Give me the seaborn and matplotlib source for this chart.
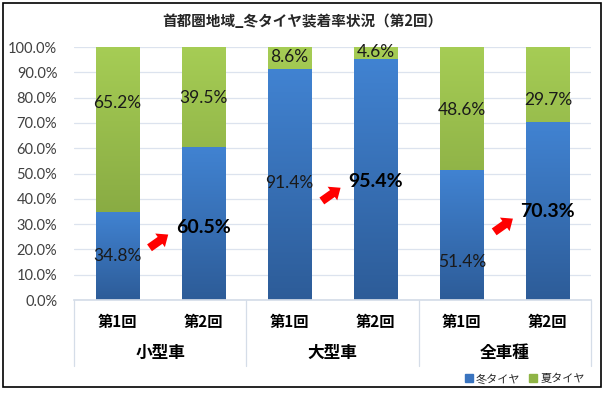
import numpy as np
import pandas as pd
import seaborn as sns
import matplotlib.pyplot as plt
import matplotlib.patches as mpatches
from matplotlib.colors import LinearSegmentedColormap
from matplotlib.ticker import FuncFormatter

# dados
grupos = ['小型車', '大型車', '全車種']
rodadas = ['第1回', '第2回']
inverno = [34.8, 60.5, 91.4, 95.4, 51.4, 70.3]   # 冬タイヤ
verao = [65.2, 39.5, 8.6, 4.6, 48.6, 29.7]       # 夏タイヤ
# posição vertical (em %) onde cada rótulo foi escrito no original
y_rot_verao = [77.9, 79.8, 96.0, 98.0, 75.1, 79.0]
y_rot_inverno = [17.4, 28.5, 46.2, 47.0, 15.0, 34.8]

cats = [f'{g}{r}' for g in grupos for r in rodadas]
df = pd.DataFrame({'cat': cats, 'inverno': inverno, 'verao': verao})
df['total'] = df['inverno'] + df['verao']

sns.set_theme(style='white')
plt.rcParams['font.family'] = ['Noto Sans CJK JP', 'DejaVu Sans']

fig = plt.figure(figsize=(6.04, 3.99), dpi=100)
ax = fig.add_axes([0.1225, 0.2481, 0.856, 0.6341])

azul = '#3a74bf'
verde = '#8fb446'
sns.barplot(data=df, x='cat', y='total', color=verde, width=0.5, saturation=1, ax=ax, zorder=2)
sns.barplot(data=df, x='cat', y='inverno', color=azul, width=0.5, saturation=1, ax=ax, zorder=2)

# degradê nas barras, parecido com o Excel
cmap_verde = LinearSegmentedColormap.from_list('v', ['#7a9a3a', '#a6cd55'])
cmap_azul = LinearSegmentedColormap.from_list('a', ['#2d5c98', '#4183d2'])
grad = np.linspace(0, 1, 256).reshape(-1, 1)
n = len(cats)
for i, p in enumerate(ax.patches):
    cmap = cmap_verde if i < n else cmap_azul
    x0, y0 = p.get_x(), p.get_y()
    w, h = p.get_width(), p.get_height()
    im = ax.imshow(grad, extent=[x0, x0 + w, y0, y0 + h], origin='lower', aspect='auto',
                   cmap=cmap, zorder=2.5)
    im.set_clip_path(p)
    p.set_facecolor('none')
    p.set_edgecolor('none')

ax.set_xlim(-0.5, n - 0.5)
ax.set_ylim(0, 100)
ax.set_yticks(np.arange(0, 101, 10))
ax.yaxis.set_major_formatter(FuncFormatter(lambda v, _: f'{v:.1f}%'))
ax.tick_params(axis='y', labelsize=10.5, colors='#404040', length=0, pad=12)
for t in ax.get_yticklabels():
    t.set_family('Lato')
ax.set_xticks([])
ax.set_xlabel('')
ax.set_ylabel('')
ax.grid(axis='y', color='#dce3ee', lw=0.9, zorder=0)
for s in ['top', 'right', 'left']:
    ax.spines[s].set_visible(False)
ax.spines['bottom'].set_color('#d5dde8')

# rótulos de dados
for i in range(n):
    ax.text(i, y_rot_verao[i], f'{verao[i]:.1f}%', ha='center', va='center',
            fontsize=12.5, color='#1a1a1a', family='Lato', zorder=5)
    if i % 2 == 0:
        ax.text(i, y_rot_inverno[i], f'{inverno[i]:.1f}%', ha='center', va='center',
                fontsize=12.5, color='#1a1a1a', family='Lato', zorder=5)
    else:
        ax.text(i, y_rot_inverno[i], f'{inverno[i]:.1f}%', ha='center', va='center',
                fontsize=14, fontweight='bold', color='black', family='Lato', zorder=5)

# setas vermelhas
for i in range(0, n, 2):
    ax.annotate('', xy=(i + 0.62, y_rot_inverno[i + 1] - 2), xytext=(i + 0.35, y_rot_inverno[i + 1] - 8.5),
                arrowprops=dict(arrowstyle='simple,head_length=0.6,head_width=1.0,tail_width=0.5',
                                color='red', lw=0), zorder=6)

# eixo x em dois níveis
trans = ax.get_xaxis_transform()
for i, c in enumerate(cats):
    ax.text(i, -0.085, rodadas[i % 2], transform=trans, ha='center', va='center',
            fontsize=11, fontweight='bold', color='black')
for k, g in enumerate(grupos):
    ax.text(2 * k + 0.5, -0.21, g, transform=trans, ha='center', va='center',
            fontsize=12, fontweight='bold', color='black')
for xs in [-0.5, 1.5, 3.5, 5.5]:
    ax.plot([xs, xs], [0, -0.26], transform=trans, color='#d5dde8', lw=0.9, clip_on=False)

fig.text(0.5, 0.948, '首都圏地域_冬タイヤ装着率状況（第2回）', ha='center', va='center',
         fontsize=10.5, fontweight='bold', color='#262626')

hs = [mpatches.Patch(color=azul, label='冬タイヤ'), mpatches.Patch(color=verde, label='夏タイヤ')]
fig.legend(handles=hs, loc='lower right', bbox_to_anchor=(0.985, 0.012), ncol=2, frameon=False,
           fontsize=8, handlelength=0.7, handleheight=0.7, handletextpad=0.3, columnspacing=0.8)

fig.patches.append(mpatches.Rectangle((0.005, 0.03), 0.99, 0.962, transform=fig.transFigure,
                                      fill=False, edgecolor='black', lw=1.2))

fig.savefig('out.png', dpi=100)
